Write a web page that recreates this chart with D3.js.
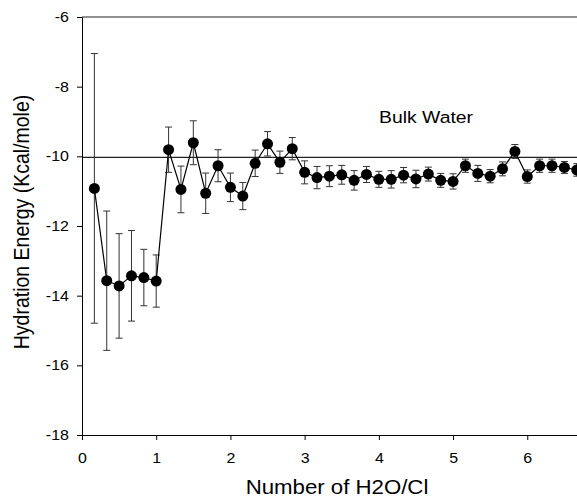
<!DOCTYPE html>
<html>
<head>
<meta charset="utf-8">
<script src="https://cdn.jsdelivr.net/npm/d3@7"></script>
<style>
  body { margin: 0; background: #fff; }
  svg { display: block; font-family: "Liberation Sans", Arial, sans-serif; }
</style>
</head>
<body>
<div id="chart"></div>
<script>
// number of H2O per Cl (x = k/6)
const waterRatio = [
  1/6, 2/6, 3/6, 4/6, 5/6, 1, 7/6, 8/6, 9/6, 10/6,
  11/6, 2, 13/6, 14/6, 15/6, 16/6, 17/6, 3, 19/6, 20/6,
  21/6, 22/6, 23/6, 4, 25/6, 26/6, 27/6, 28/6, 29/6, 5,
  31/6, 32/6, 33/6, 34/6, 35/6, 6, 37/6, 38/6, 39/6, 40/6
];
const energy = [
  -10.92, -13.57, -13.72, -13.43, -13.48, -13.58, -9.81, -10.95, -9.61, -11.06,
  -10.27, -10.89, -11.14, -10.20, -9.64, -10.17, -9.78, -10.46, -10.61, -10.57,
  -10.53, -10.69, -10.52, -10.66, -10.66, -10.54, -10.65, -10.51, -10.69, -10.72,
  -10.27, -10.49, -10.57, -10.36, -9.86, -10.58, -10.27, -10.27, -10.32, -10.39
];
const energyErr = [
  3.87, 2.00, 1.50, 1.30, 0.81, 0.75, 0.65, 0.67, 0.63, 0.58,
  0.46, 0.41, 0.39, 0.38, 0.35, 0.32, 0.32, 0.33, 0.32, 0.30,
  0.27, 0.28, 0.23, 0.23, 0.25, 0.22, 0.25, 0.20, 0.20, 0.22,
  0.19, 0.23, 0.19, 0.20, 0.20, 0.19, 0.19, 0.19, 0.17, 0.18
];
const bulkWater = -10.03;
const xTicks = [0, 1, 2, 3, 4, 5, 6];
const yTicks = [-18, -16, -14, -12, -10, -8, -6];

const data = waterRatio.map((x, i) => ({ x: x, y: energy[i], e: energyErr[i] }));

const W = 577, H = 500;
const stretch = 'scale(1.14,1)';

const svg = d3.select('#chart').append('svg')
  .attr('width', W)
  .attr('height', H);

svg.append('rect').attr('width', W).attr('height', H).attr('fill', '#fff');

const x = d3.scaleLinear().domain([0, 6.67]).range([82, 577]);
const y = d3.scaleLinear().domain([-18, -6]).range([435, 17]);

// frame top
svg.append('line')
  .attr('x1', x(0)).attr('x2', W)
  .attr('y1', y(-6)).attr('y2', y(-6))
  .attr('stroke', '#222').attr('stroke-width', 1);

// bulk water reference
svg.append('line')
  .attr('x1', x(0)).attr('x2', W)
  .attr('y1', y(bulkWater)).attr('y2', y(bulkWater))
  .attr('stroke', '#222').attr('stroke-width', 1.2);

svg.append('text')
  .attr('transform', `translate(426,123) ${stretch}`)
  .attr('text-anchor', 'middle')
  .attr('font-size', 17)
  .text('Bulk Water');

// plain hyphen for negatives, as in the original
const fmt = d => String(d);

// X axis
const xAxis = svg.append('g')
  .attr('transform', `translate(0,${y(-18)})`)
  .call(d3.axisBottom(x).tickValues(xTicks).tickFormat(fmt).tickSize(5).tickSizeOuter(0));
xAxis.selectAll('text')
  .attr('y', 28).attr('dy', 0)
  .attr('font-size', 14).attr('fill', '#000')
  .attr('font-family', '"Liberation Sans", Arial, sans-serif')
  .attr('transform', stretch);

// Y axis
const yAxis = svg.append('g')
  .attr('transform', `translate(${x(0)},0)`)
  .call(d3.axisLeft(y).tickValues(yTicks).tickFormat(fmt).tickSize(5).tickSizeOuter(0));
yAxis.selectAll('text')
  .attr('x', -11.5)
  .attr('font-size', 14).attr('fill', '#000')
  .attr('font-family', '"Liberation Sans", Arial, sans-serif')
  .attr('transform', stretch);
svg.selectAll('.domain, .tick line').attr('stroke', '#000');

// axis titles
svg.append('text')
  .attr('transform', `translate(337,494) ${stretch}`)
  .attr('text-anchor', 'middle')
  .attr('font-size', 19.5)
  .text('Number of H2O/Cl');

svg.append('text')
  .attr('transform', 'translate(29,222) rotate(-90) scale(1,1.1)')
  .attr('text-anchor', 'middle')
  .attr('font-size', 19.5)
  .text('Hydration Energy (Kcal/mole)');

// error bars
const cap = 3.5;
const err = svg.append('g').attr('stroke', '#333').attr('stroke-width', 1);
err.selectAll('.ev').data(data).enter().append('line')
  .attr('x1', d => x(d.x)).attr('x2', d => x(d.x))
  .attr('y1', d => y(d.y + d.e)).attr('y2', d => y(d.y - d.e));
err.selectAll('.et').data(data).enter().append('line')
  .attr('x1', d => x(d.x) - cap).attr('x2', d => x(d.x) + cap)
  .attr('y1', d => y(d.y + d.e)).attr('y2', d => y(d.y + d.e));
err.selectAll('.eb').data(data).enter().append('line')
  .attr('x1', d => x(d.x) - cap).attr('x2', d => x(d.x) + cap)
  .attr('y1', d => y(d.y - d.e)).attr('y2', d => y(d.y - d.e));

// connecting line
svg.append('path')
  .datum(data)
  .attr('fill', 'none')
  .attr('stroke', '#000')
  .attr('stroke-width', 1.2)
  .attr('d', d3.line().x(d => x(d.x)).y(d => y(d.y)));

// markers
svg.selectAll('.pt').data(data).enter().append('circle')
  .attr('cx', d => x(d.x))
  .attr('cy', d => y(d.y))
  .attr('r', 5.5)
  .attr('fill', '#000');
</script>
</body>
</html>
